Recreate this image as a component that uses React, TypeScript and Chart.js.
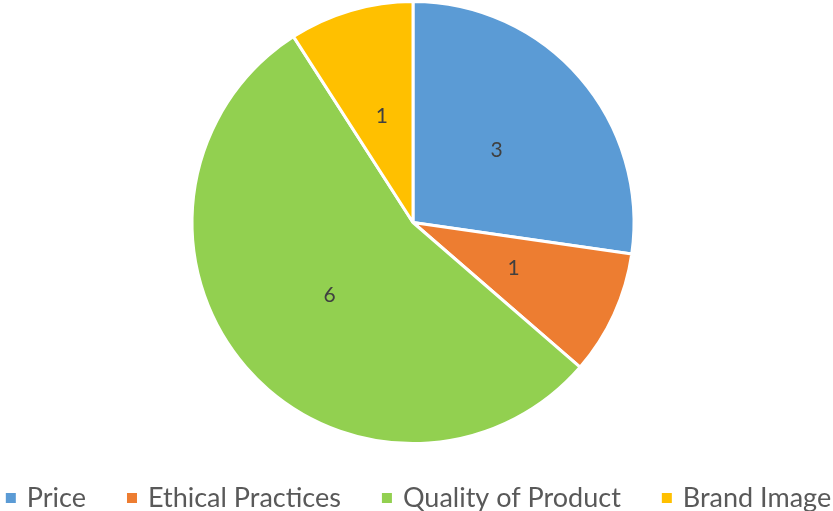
import React, { useEffect, useRef } from "react";
import { Chart, registerables } from "chart.js";

Chart.register(...registerables);

const categories = ["Price", "Ethical Practices", "Quality of Product", "Brand Image"];
const values = [3, 1, 6, 1];
const colors = ["#5B9BD5", "#ED7D31", "#92D050", "#FFC000"];

const FONT = "Lato, 'Open Sans', sans-serif";

const valueLabels = {
  id: "valueLabels",
  afterDatasetsDraw(chart: any) {
    const ctx = chart.ctx;
    const meta = chart.getDatasetMeta(0);
    ctx.save();
    ctx.font = `21px ${FONT}`;
    ctx.fillStyle = "#404040";
    ctx.textAlign = "center";
    ctx.textBaseline = "middle";
    meta.data.forEach((arc: any, i: number) => {
      const p = arc.tooltipPosition();
      ctx.fillText(String(chart.data.datasets[0].data[i]), p.x, p.y);
    });
    ctx.restore();
  },
};

const bottomLegend = {
  id: "bottomLegend",
  afterDraw(chart: any) {
    const ctx = chart.ctx;
    ctx.save();
    ctx.font = `27px ${FONT}`;
    const box = 10;
    const boxGap = 11;
    const itemGap = 41;
    const widths = categories.map((t) => ctx.measureText(t).width);
    const total =
      widths.reduce((a, w) => a + box + boxGap + w, 0) + itemGap * (categories.length - 1);
    let x = (chart.width - total) / 2 + 2;
    const y = 498;
    ctx.textBaseline = "middle";
    ctx.textAlign = "left";
    categories.forEach((t, i) => {
      ctx.fillStyle = colors[i];
      ctx.fillRect(x, y - box / 2, box, box);
      x += box + boxGap;
      ctx.fillStyle = "#595959";
      ctx.fillText(t, x, y);
      x += widths[i] + itemGap;
    });
    ctx.restore();
  },
};

export default function App() {
  const ref = useRef<HTMLCanvasElement>(null);
  useEffect(() => {
    document.body.style.margin = "0";
    const chart = new Chart(ref.current!, {
      type: "pie",
      data: {
        labels: categories,
        datasets: [
          {
            data: values,
            backgroundColor: colors,
            borderColor: "#FFFFFF",
            borderWidth: 3,
          },
        ],
      },
      options: {
        animation: false,
        responsive: false,
        maintainAspectRatio: false,
        layout: { padding: { top: 0, left: 0, right: 7, bottom: 66 } },
        plugins: {
          tooltip: { enabled: false },
          legend: { display: false },
        },
      },
      plugins: [valueLabels, bottomLegend],
    });
    return () => chart.destroy();
  }, []);
  return (
    <div style={{ position: "absolute", left: 0, top: 0, width: 833, height: 511 }}>
      <canvas ref={ref} width={833} height={511} />
    </div>
  );
}
